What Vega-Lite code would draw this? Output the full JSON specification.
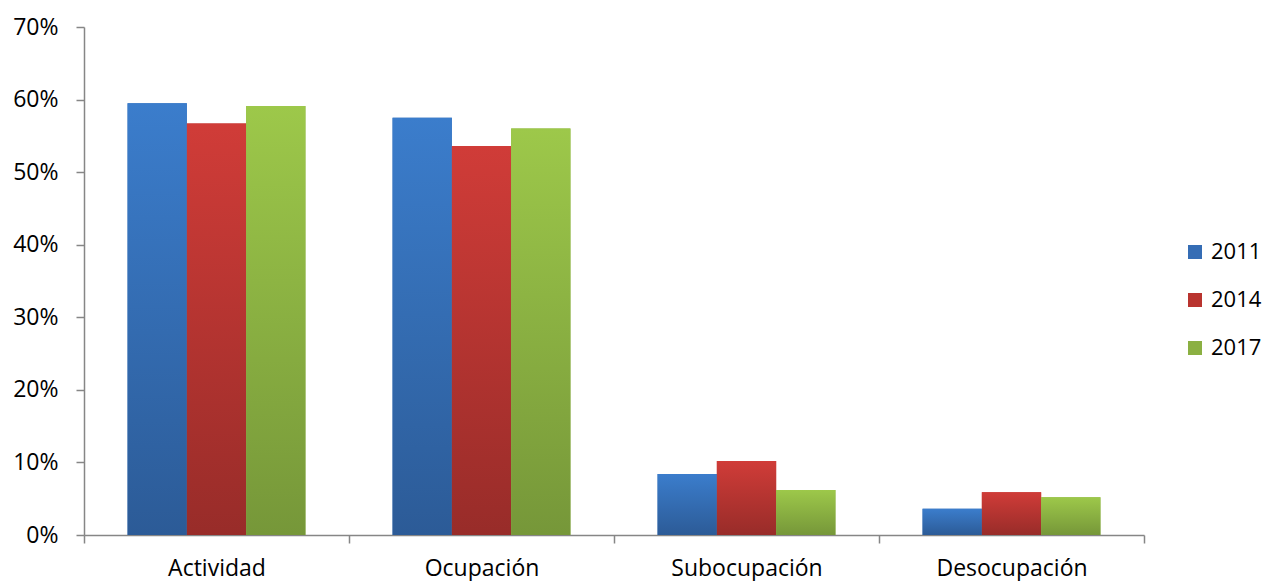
{
  "$schema": "https://vega.github.io/schema/vega-lite/v6.json",
  "width": 1060,
  "height": 508,
  "autosize": {"type": "none"},
  "padding": {"left": 84, "top": 27, "right": 121, "bottom": 46},
  "background": "white",
  "config": {
    "view": {"stroke": null},
    "font": "Open Sans"
  },
  "data": {
    "values": [
      {"categoria": "Actividad", "anio": "2011", "valor": 0.595},
      {"categoria": "Actividad", "anio": "2014", "valor": 0.567},
      {"categoria": "Actividad", "anio": "2017", "valor": 0.591},
      {"categoria": "Ocupación", "anio": "2011", "valor": 0.575},
      {"categoria": "Ocupación", "anio": "2014", "valor": 0.536},
      {"categoria": "Ocupación", "anio": "2017", "valor": 0.560},
      {"categoria": "Subocupación", "anio": "2011", "valor": 0.084},
      {"categoria": "Subocupación", "anio": "2014", "valor": 0.102},
      {"categoria": "Subocupación", "anio": "2017", "valor": 0.062},
      {"categoria": "Desocupación", "anio": "2011", "valor": 0.036},
      {"categoria": "Desocupación", "anio": "2014", "valor": 0.059},
      {"categoria": "Desocupación", "anio": "2017", "valor": 0.052}
    ]
  },
  "encoding": {
    "x": {
      "field": "categoria",
      "type": "nominal",
      "sort": null,
      "scale": {"paddingInner": 0, "paddingOuter": 0},
      "axis": {
        "title": null,
        "labelAngle": 0,
        "labelFont": "Open Sans",
        "labelFontSize": 23,
        "labelColor": "#000000",
        "labelPadding": 14,
        "tickBand": "extent",
        "tickSize": 8,
        "tickColor": "#868686",
        "tickWidth": 1.5,
        "domainColor": "#868686",
        "domainWidth": 1.5
      }
    },
    "xOffset": {
      "field": "anio",
      "type": "nominal",
      "scale": {"paddingInner": 0, "paddingOuter": 0.735}
    },
    "y": {
      "field": "valor",
      "type": "quantitative",
      "scale": {"domain": [0, 0.7]},
      "axis": {
        "title": null,
        "values": [0, 0.1, 0.2, 0.3, 0.4, 0.5, 0.6, 0.7],
        "format": ".0%",
        "grid": false,
        "labelFont": "Open Sans",
        "labelFontSize": 23,
        "labelColor": "#000000",
        "labelPadding": 18,
        "tickSize": 8,
        "tickColor": "#868686",
        "tickWidth": 1.5,
        "domainColor": "#868686",
        "domainWidth": 1.5
      }
    }
  },
  "layer": [
    {
      "mark": {"type": "bar"},
      "encoding": {
        "color": {
          "field": "anio",
          "type": "nominal",
          "scale": {
            "domain": ["2011", "2014", "2017"],
            "range": ["#356db5", "#b9342f", "#8bb042"]
          },
          "legend": {
            "title": null,
            "orient": "none",
            "legendX": 1100,
            "legendY": 214,
            "padding": 0,
            "symbolType": "square",
            "symbolSize": 196,
            "symbolStrokeWidth": 0,
            "labelFont": "Open Sans",
            "labelFontSize": 22,
            "labelColor": "#000000",
            "labelOffset": 5,
            "rowPadding": 26
          }
        }
      }
    },
    {
      "mark": {"type": "bar"},
      "encoding": {
        "color": {
          "condition": [
            {"test": "datum.anio === '2011'", "value": {"gradient": "linear", "x1": 0, "y1": 0, "x2": 0, "y2": 1, "stops": [{"offset": 0, "color": "#3b7dcc"}, {"offset": 1, "color": "#2c5b97"}]}},
            {"test": "datum.anio === '2014'", "value": {"gradient": "linear", "x1": 0, "y1": 0, "x2": 0, "y2": 1, "stops": [{"offset": 0, "color": "#d03c38"}, {"offset": 1, "color": "#982c29"}]}}
          ],
          "value": {"gradient": "linear", "x1": 0, "y1": 0, "x2": 0, "y2": 1, "stops": [{"offset": 0, "color": "#9dc84a"}, {"offset": 1, "color": "#769739"}]}
        }
      }
    }
  ]
}
